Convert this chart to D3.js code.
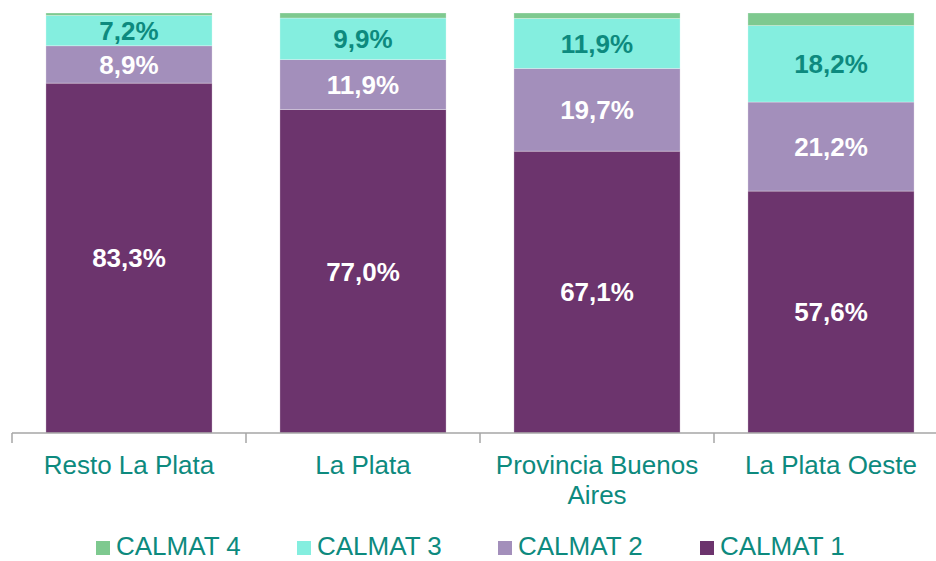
<!DOCTYPE html>
<html><head><meta charset="utf-8">
<script src="https://cdn.jsdelivr.net/npm/d3@7"></script>
<style>html,body{margin:0;padding:0;background:#fff;}svg{display:block;}</style>
</head><body>
<svg id="chart" width="936" height="561"></svg>
<script>
const categories = ["Resto La Plata", "La Plata", "Provincia Buenos Aires", "La Plata Oeste"];
const categoryLines = [["Resto La Plata"], ["La Plata"], ["Provincia Buenos", "Aires"], ["La Plata Oeste"]];
const seriesNames = ["CALMAT 1", "CALMAT 2", "CALMAT 3", "CALMAT 4"];
const calmat1 = [83.3, 77.0, 67.1, 57.6];
const calmat2 = [8.9, 11.9, 19.7, 21.2];
const calmat3 = [7.2, 9.9, 11.9, 18.2];
const calmat4 = [0.6, 1.2, 1.3, 3.0];
const seriesColors = ["#6c346d", "#a38fbb", "#84eedf", "#7ec98f"];
const labelColors = ["#ffffff", "#ffffff", "#0d8a7e", null];
const legendOrder = ["CALMAT 4", "CALMAT 3", "CALMAT 2", "CALMAT 1"];

const values = [calmat1, calmat2, calmat3, calmat4];
const rows = categories.map((c, i) => {
  const r = {cat: c};
  seriesNames.forEach((s, j) => r[s] = values[j][i]);
  return r;
});
const stacked = d3.stack().keys(seriesNames)(rows);

const svg = d3.select("#chart");
const teal = "#0d8a7e";
const x = d3.scaleBand().domain(categories).range([12, 948]).paddingInner(0.29).paddingOuter(0.145);
const y = d3.scaleLinear().domain([0, 100]).range([433, 13]);
const color = d3.scaleOrdinal().domain(seriesNames).range(seriesColors);

const g = svg.append("g");
stacked.forEach((layer, j) => {
  g.selectAll(null).data(layer).enter().append("rect")
    .attr("x", d => x(d.data.cat))
    .attr("width", x.bandwidth())
    .attr("y", d => y(d[1]))
    .attr("height", d => y(d[0]) - y(d[1]))
    .attr("fill", color(layer.key))
    .attr("stroke", "#ffffff").attr("stroke-opacity", 0.35).attr("stroke-width", 0.8);
  if (labelColors[j]) {
    g.selectAll(null).data(layer).enter().append("text")
      .attr("x", d => x(d.data.cat) + x.bandwidth() / 2)
      .attr("y", d => (y(d[0]) + y(d[1])) / 2)
      .attr("dy", "0.36em")
      .attr("text-anchor", "middle")
      .attr("font-family", "Liberation Sans, Arial, sans-serif")
      .attr("font-weight", "bold")
      .attr("font-size", 26)
      .attr("fill", labelColors[j])
      .text(d => (d[1] - d[0]).toFixed(1).replace(".", ",") + "%");
  }
});

// axis
const axis = svg.append("g").attr("transform", "translate(0,433)")
  .call(d3.axisBottom(x).tickSize(0).tickFormat(""));
axis.select(".domain").attr("stroke", "#a6a6a6").attr("stroke-width", 1.5).attr("d", "M12,0H948");
const bounds = categories.map(c => x(c) - x.step() * x.paddingInner() / 2);
axis.selectAll(".bound").data(bounds).enter().append("line")
  .attr("x1", d => d).attr("x2", d => d).attr("y1", 0).attr("y2", 10)
  .attr("stroke", "#a6a6a6").attr("stroke-width", 1.5);

// category labels
categories.forEach((c, i) => {
  const t = svg.append("text")
    .attr("x", x(c) + x.bandwidth() / 2)
    .attr("y", 474)
    .attr("text-anchor", "middle")
    .attr("font-family", "Liberation Sans, Arial, sans-serif")
    .attr("font-size", 26)
    .attr("fill", teal);
  categoryLines[i].forEach((line, k) => {
    t.append("tspan").attr("x", x(c) + x.bandwidth() / 2).attr("dy", k === 0 ? 0 : 30).text(line);
  });
});

// legend
const legendX = [96, 297, 498, 700];
const leg = svg.append("g");
legendOrder.forEach((s, i) => {
  leg.append("rect").attr("x", legendX[i]).attr("y", 541).attr("width", 14).attr("height", 14).attr("fill", color(s));
  leg.append("text").attr("x", legendX[i] + 20).attr("y", 555)
    .attr("font-family", "Liberation Sans, Arial, sans-serif")
    .attr("font-size", 26).attr("fill", teal).text(s);
});
</script>
</body></html>
